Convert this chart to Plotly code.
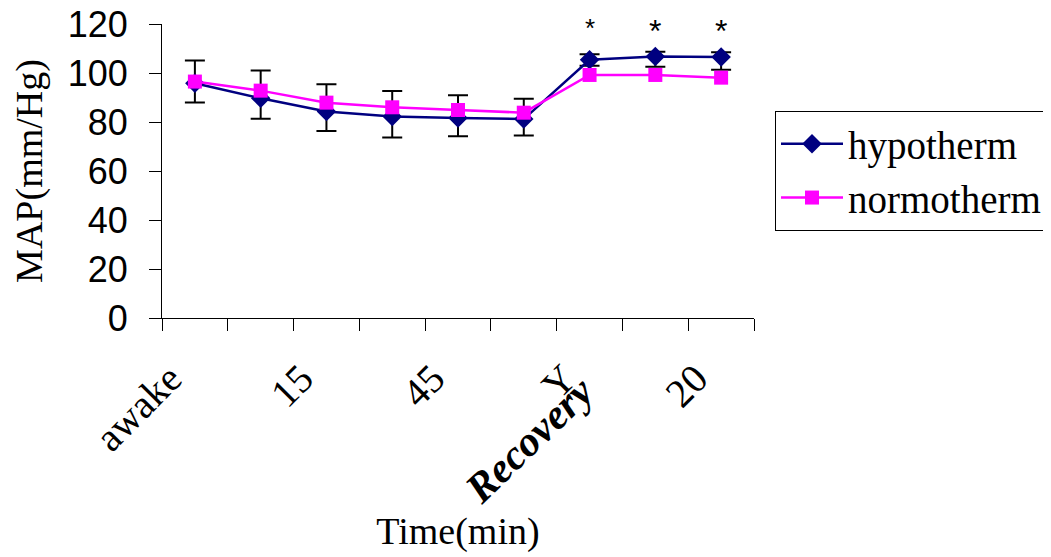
import plotly.graph_objects as go

categories = ["awake", "c2", "15", "c4", "45", "c6", "Y", "c8", "20"]
tick_labels = ["awake", "", "15", "", "45", "", "Y", "", "20"]
hypotherm = [95.8, 89.7, 84.3, 82.2, 81.6, 81.2, 105.4, 106.7, 106.5]
normotherm = [96.5, 92.8, 87.9, 86.0, 84.9, 83.8, 99.2, 99.2, 98.1]
err_plus = [9.3, 11.3, 11.1, 10.5, 9.3, 8.3, 2.3, 2.0, 2.0]
err_minus = [7.8, 8.4, 8.0, 8.5, 7.4, 6.7, 2.4, 4.2, 5.2]
star_cats = ["Y", "c8", "20"]
star_y = [118.3, 117.2, 117.2]
star_sizes = [26, 32, 32]

SERIF = "Liberation Serif, Times New Roman, serif"
SANS = "Liberation Sans, Arial, sans-serif"

# the page body has an 8px margin; compensate so the plot lands where the reference has it
OFF = 8

fig = go.Figure()
fig.add_trace(go.Scatter(
    x=categories, y=hypotherm, name="hypotherm", mode="lines+markers",
    line=dict(color="#000080", width=2.5),
    marker=dict(symbol="diamond", size=15, color="#000080"),
    error_y=dict(type="data", symmetric=False, array=err_plus, arrayminus=err_minus,
                 color="black", thickness=2, width=10),
))
fig.add_trace(go.Scatter(
    x=categories, y=normotherm, name="normotherm", mode="lines+markers",
    line=dict(color="#FF00FF", width=2.5),
    marker=dict(symbol="square", size=14, color="#FF00FF"),
))

for c, yv, s in zip(star_cats, star_y, star_sizes):
    fig.add_annotation(x=categories.index(c), y=yv, text="*", showarrow=False,
                       xanchor="center", yanchor="middle",
                       font=dict(family=SANS, size=s, color="black"))

fig.add_annotation(x=0.62, y=-0.415, xref="paper", yref="paper",
                   xanchor="center", yanchor="middle",
                   text="<b><i>Recovery</i></b>", showarrow=False, textangle=-44,
                   font=dict(family=SERIF, size=42, color="black"))

fig.update_layout(
    width=1051, height=557,
    margin=dict(l=162 - OFF, r=297 + OFF, t=24 - OFF, b=239 + OFF, autoexpand=False),
    paper_bgcolor="white", plot_bgcolor="white",
    showlegend=True,
    legend=dict(x=(775 - OFF) / 1051, y=1 - (111 - OFF) / 557,
                xref="container", yref="container",
                xanchor="left", yanchor="top",
                bordercolor="black", borderwidth=1, bgcolor="white",
                font=dict(family=SERIF, size=39, color="black"),
                itemwidth=62, tracegroupgap=0),
    xaxis=dict(
        type="category", categoryorder="array", categoryarray=categories,
        tickmode="array", tickvals=categories, ticktext=tick_labels,
        tickson="boundaries", ticks="outside", ticklen=12, tickcolor="black",
        tickangle=-45, showline=True, linecolor="black", linewidth=1,
        showgrid=False, zeroline=False, range=[-0.5, 8.5], automargin=False,
        ticklabelshift=-25, ticklabelstandoff=20, ticklabeloverflow="allow",
        tickfont=dict(family=SERIF, size=40, color="black"),
        title=dict(text="Time(min)", font=dict(family=SERIF, size=38, color="black"),
                   standoff=58),
    ),
    yaxis=dict(
        range=[0, 120], tickvals=[0, 20, 40, 60, 80, 100, 120],
        ticks="outside", ticklen=12, tickcolor="black",
        showline=True, linecolor="black", linewidth=1,
        showgrid=False, zeroline=False, automargin=False,
        ticklabelstandoff=14, ticklabeloverflow="allow",
        tickfont=dict(family=SANS, size=36, color="black"),
        title=dict(text="MAP(mm/Hg)", font=dict(family=SERIF, size=38, color="black"),
                   standoff=15),
    ),
)

fig.write_html("out.html")
